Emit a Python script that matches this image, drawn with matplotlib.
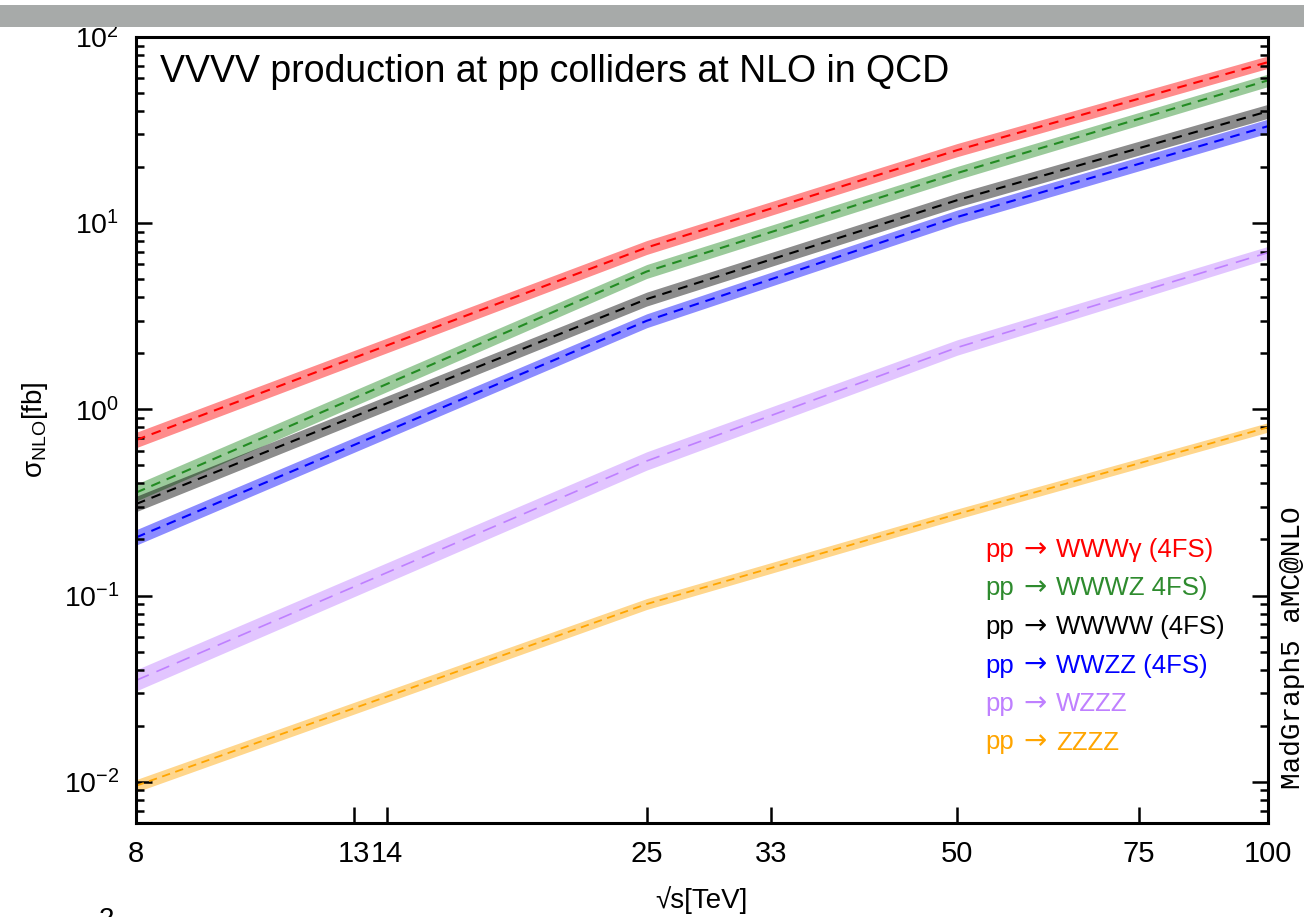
import matplotlib
matplotlib.use("Agg")
import matplotlib.pyplot as plt
import matplotlib.ticker as mticker
from matplotlib.patches import Rectangle
import numpy as np

plt.rcParams['font.family'] = ['Liberation Sans', 'DejaVu Sans']
plt.rcParams['mathtext.fontset'] = 'custom'
plt.rcParams['mathtext.rm'] = 'Liberation Sans'
plt.rcParams['mathtext.it'] = 'Liberation Sans:italic'
plt.rcParams['mathtext.default'] = 'regular'
plt.rcParams['lines.scale_dashes'] = False

# ---- data ----
energies = [8, 25, 50, 100]
xticks = [8, 13, 14, 25, 33, 50, 75, 100]
xticklabels = ["8", "13", "14", "25", "33", "50", "75", "100"]

labels = ["pp → WWWγ (4FS)", "pp → WWWZ 4FS)", "pp → WWWW (4FS)",
          "pp → WWZZ (4FS)", "pp → WZZZ", "pp → ZZZZ"]
xs_wwwa = [0.684, 7.4, 24.7, 73.3]
xs_wwwz = [0.357, 5.5, 18.6, 58.5]
xs_wwww = [0.31, 3.91, 13.3, 39.9]
xs_wwzz = [0.205, 2.99, 10.8, 33.2]
xs_wzzz = [0.035, 0.528, 2.15, 6.95]
xs_zzzz = [0.0095, 0.090, 0.274, 0.80]

# relative scale uncertainty (band half-width, multiplicative)
unc_wwwa = [0.10, 0.09, 0.085, 0.08]
unc_wwwz = [0.11, 0.09, 0.085, 0.08]
unc_wwww = [0.10, 0.09, 0.09, 0.09]
unc_wwzz = [0.10, 0.09, 0.09, 0.09]
unc_wzzz = [0.14, 0.12, 0.10, 0.08]
unc_zzzz = [0.08, 0.07, 0.065, 0.06]

series = [xs_wwwa, xs_wwwz, xs_wwww, xs_wwzz, xs_wzzz, xs_zzzz]
uncs = [unc_wwwa, unc_wwwz, unc_wwww, unc_wwzz, unc_wzzz, unc_zzzz]
line_colors = ["#FF0000", "#228B22", "#000000", "#0000FF", "#BF80FF", "#FFA500"]
text_colors = ["#FF0000", "#2E8B2E", "#000000", "#0000FF", "#BF80FF", "#FFA500"]
dash_styles = [(0, (7, 5)), (0, (7, 5)), (0, (7, 5)), (0, (7, 5)), (0, (10, 6)), (0, (6, 4))]
dash_widths = [1.5, 1.5, 1.5, 1.5, 1.2, 1.3]

W, H = 1304, 917
fig = plt.figure(figsize=(W / 100, H / 100), dpi=100)
fig.patch.set_facecolor("white")

# grey bar at top (screenshot strip)
fig.patches.append(Rectangle((0, 1 - 27 / H), 1, 22 / H, transform=fig.transFigure,
                             facecolor="#A7AAA9", edgecolor="none", zorder=0))

ax = fig.add_axes([136 / W, 1 - 823 / H, (1268 - 136) / W, (823 - 37) / H])
ax.set_xscale("log")
ax.set_yscale("log")
ax.set_xlim(8, 100)
ax.set_ylim(0.006, 100)

for vals, unc, lc, ds, dw in zip(series, uncs, line_colors, dash_styles, dash_widths):
    v = np.array(vals)
    u = np.array(unc)
    ax.fill_between(energies, v / (1 + u), v * (1 + u), color=lc, alpha=0.45,
                    linewidth=0)
    ax.plot(energies, v, color=lc, linestyle=ds, linewidth=dw)

ax.xaxis.set_major_locator(mticker.FixedLocator(xticks))
ax.xaxis.set_major_formatter(mticker.FixedFormatter(xticklabels))
ax.xaxis.set_minor_locator(mticker.NullLocator())
ax.yaxis.set_major_locator(mticker.LogLocator(base=10, numticks=10))
ax.yaxis.set_minor_locator(mticker.LogLocator(base=10, subs=np.arange(2, 10), numticks=20))
ax.yaxis.set_minor_formatter(mticker.NullFormatter())

ax.tick_params(axis="y", which="both", direction="in", left=True, right=True)
ax.tick_params(axis="x", which="both", direction="in", bottom=True, top=False)
ax.tick_params(which="major", length=11.5, width=1.8, pad=12)
ax.tick_params(axis="y", which="major", labelsize=20.5)
ax.tick_params(axis="x", which="major", labelsize=21)
ax.tick_params(which="minor", length=6, width=1.8)
for s in ax.spines.values():
    s.set_linewidth(2.2)

ax.set_xlabel("√s[TeV]", fontsize=20, labelpad=13)
ax.set_ylabel(r"$\sigma_{\mathrm{NLO}}$[fb]", fontsize=20, labelpad=10)

ax.text(0.021, 0.978, "VVVV production at pp colliders at NLO in QCD",
        transform=ax.transAxes, fontsize=27, va="top", ha="left")

# legend-style coloured text lines: "pp", arrow, final state
for i, (lab, tc) in enumerate(zip(labels, text_colors)):
    pre, post = lab.split(" → ")
    yb = 1 - (557 + i * 38.5) / H
    fig.text(985 / W, yb, pre, color=tc, fontsize=18.5, ha="left", va="baseline")
    fig.text(1035 / W, yb, "→", color=tc, fontsize=20, ha="center", va="baseline",
             family=["DejaVu Sans"])
    fig.text(1056 / W, yb, post, color=tc, fontsize=18.5, ha="left", va="baseline")

fig.text(1293 / W, 1 - 648 / H, "MadGraph5 aMC@NLO", rotation=90,
         fontsize=20, family=["Liberation Mono", "DejaVu Sans Mono"],
         ha="center", va="center")

# cut-off character at bottom edge
fig.text(106 / W, 1 - 907 / H, "2", fontsize=20, ha="center", va="top")

fig.savefig("out.png", dpi=100)
